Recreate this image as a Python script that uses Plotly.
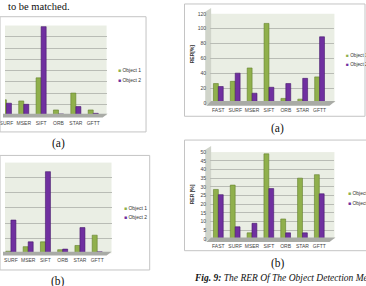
import plotly.graph_objects as go

W, H = 366, 286
def X(p): return p / W
def Y(p): return 1 - p / H

categories = ["FAST", "SURF", "MSER", "SIFT", "ORB", "STAR", "GFTT"]

# top-left chart (a) (scale partly off-page)
tl_obj1 = [30, 28, 26, 67, 10, 40, 10]
tl_obj2 = [25, 22, 20, 158, 3, 16, 4]
# top-right chart (a)
tr_obj1 = [26, 29, 47, 107, 6, 5, 35]
tr_obj2 = [22, 40, 13, 21, 26, 33, 89]
# bottom-left chart (b)
bl_obj1 = [1, 0.7, 2.2, 3.8, 1.2, 2.6, 6]
bl_obj2 = [2, 11, 3.8, 27, 1.4, 8.5, 0.5]
# bottom-right chart (b)
br_obj1 = [28.5, 31, 3.5, 49, 11.5, 35, 37]
br_obj2 = [25.5, 7, 9, 29, 3.5, 3.5, 26]

GREEN, GREEN_E = "#90b04c", "#62802a"
PURPLE, PURPLE_E = "#7030a0", "#45186a"
WALL = "#eaeee4"
GRID = "#b9bcb5"
TICKF = dict(family="Liberation Sans", size=5, color="#444444")

fig = go.Figure()

def add_pair(v1, v2, xa, ya):
    fig.add_trace(go.Bar(x=categories, y=v1, name="Object 1", xaxis=xa, yaxis=ya,
                         marker=dict(color=GREEN, line=dict(color=GREEN_E, width=0.6)),
                         showlegend=False))
    fig.add_trace(go.Bar(x=categories, y=v2, name="Object 2", xaxis=xa, yaxis=ya,
                         marker=dict(color=PURPLE, line=dict(color=PURPLE_E, width=0.6)),
                         showlegend=False))

add_pair(tl_obj1, tl_obj2, "x", "y")
add_pair(tr_obj1, tr_obj2, "x2", "y2")
add_pair(bl_obj1, bl_obj2, "x3", "y3")
add_pair(br_obj1, br_obj2, "x4", "y4")

def xax(dom, rng, show=True):
    return dict(domain=[X(dom[0]), X(dom[1])], range=rng, type="category",
                showgrid=False, zeroline=False, showline=False, ticks="",
                tickfont=TICKF, ticklabelstandoff=3, showticklabels=show, fixedrange=True)

def yax(dom, rng, dt, anchor, show=True):
    return dict(domain=[Y(dom[1]), Y(dom[0])], range=rng, dtick=dt, anchor=anchor,
                showgrid=True, gridcolor=GRID, gridwidth=1, zeroline=False,
                showline=False, ticks="", tickfont=TICKF, showticklabels=show,
                ticklabelstandoff=3, fixedrange=True)

layout = dict(
    width=W, height=H, margin=dict(l=0, r=0, t=0, b=0),
    paper_bgcolor="white", plot_bgcolor=WALL,
    barmode="group", bargap=0.42, bargroupgap=0,
    showlegend=False,
    xaxis=dict(xax((0, 103), [0.92, 6.77]), anchor="y"),
    yaxis=yax((23, 115), [0, 160], 20, "x", show=False),
    xaxis2=dict(xax((208, 334), [-0.485, 6.88]), anchor="y2"),
    yaxis2=yax((11, 102), [0, 120], 20, "x2"),
    xaxis3=dict(xax((0, 108), [0.657, 6.83]), anchor="y3"),
    yaxis3=yax((163, 255.7), [0, 30], 5, "x3", show=False),
    xaxis4=dict(xax((208, 334), [-0.486, 6.90]), anchor="y4"),
    yaxis4=yax((152.3, 241), [0, 50], 5, "x4"),
)
fig.update_layout(**layout)

shapes = []
def rect(x0, y0, x1, y1, line="#c4c4c4", fill=None, layer="above", w=1):
    shapes.append(dict(type="rect", xref="paper", yref="paper",
                       x0=X(x0), x1=X(x1), y0=Y(y1), y1=Y(y0),
                       line=dict(color=line, width=w),
                       fillcolor=fill if fill else "rgba(0,0,0,0)", layer=layer))

def poly(pts, fill, layer="below"):
    path = "M " + " L ".join(f"{X(a):.5f},{Y(b):.5f}" for a, b in pts) + " Z"
    shapes.append(dict(type="path", xref="paper", yref="paper", path=path,
                       fillcolor=fill, line=dict(width=0), layer=layer))

# chart frames
rect(-5, 14, 143, 131.7)
rect(182, 1, 365, 115.7)
rect(-5, 155.7, 146.7, 272.7)
rect(182, 140, 372, 253)

# 3D floors and side walls
poly([(-2, 117), (99, 117), (104, 113), (-2, 113)], "#a9aba6", layer="above")
poly([(204, 105), (329, 105), (335, 100), (209, 100)], "#a9aba6", layer="above")
poly([(203, 9), (209, 5), (209, 101), (203, 105)], "#d0d4ca")
poly([(-2, 258), (103, 258), (108, 254), (-2, 254)], "#a9aba6", layer="above")
poly([(204, 244), (329, 244), (335, 239.5), (209, 239.5)], "#a9aba6", layer="above")
poly([(203, 150), (209, 146), (209, 240), (203, 244)], "#d0d4ca")

fig.update_layout(shapes=shapes)

ann = []
def text(x, y, s, size, family="Liberation Serif", xanchor="center", color="#111111", angle=0, italic=False):
    if italic:
        s = "<i>" + s + "</i>"
    ann.append(dict(x=X(x), y=Y(y), xref="paper", yref="paper", text=s, showarrow=False,
                    xanchor=xanchor, yanchor="middle", textangle=angle,
                    font=dict(family=family, size=size, color=color)))

text(1.5, 4, "to be matched.", 10.5, xanchor="left")
text(54, 143, "(a)", 11.5)
text(276, 128, "(a)", 11.5)
text(54, 284, "(b)", 11.5)
text(277, 266, "(b)", 11.5)
text(190, 281, "<b>Fig. 9:</b> The RER Of The Object Detection Methods", 9.5, xanchor="left", italic=True)

def legend(x, y1, y2, size=5):
    for yy, col, lab in ((y1, GREEN, "Object 1"), (y2, PURPLE, "Object 2")):
        text(x, yy, f'<span style="color:{col}">■</span> {lab}', size, family="Liberation Sans",
             xanchor="left", color="#333333")

legend(113, 68.3, 78.3)
legend(344, 53.3, 63, size=4.7)
legend(118.5, 209, 218.7)
legend(345.5, 193.7, 204)

text(190, 52, "<b>RER[%]</b>", 5, family="Liberation Sans", angle=-90, color="#333333")
text(190, 195, "<b>RER [%]</b>", 5, family="Liberation Sans", angle=-90, color="#333333")

fig.update_layout(annotations=ann)
fig.write_html("out.html")
